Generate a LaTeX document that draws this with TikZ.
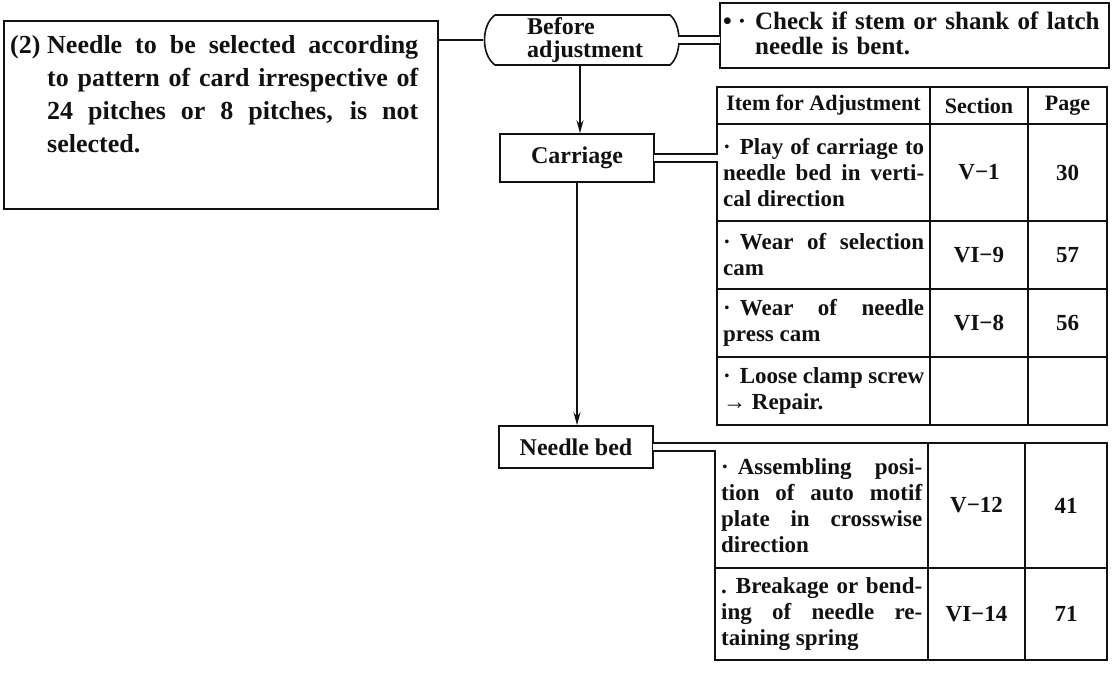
\documentclass[tikz,border=0pt]{standalone}
\usepackage{fontspec}
\setmainfont{Liberation Serif}
\usetikzlibrary{arrows.meta}
\tolerance=10000
\hbadness=10000

\begin{document}
\begin{tikzpicture}[x=1pt, y=-1pt,
    outline/.style={draw=inkColour, line width=1.6pt},
    labelbox/.style={outline, minimum width=154pt, inner sep=0pt, text=inkColour,
        font=\fontsize{24}{26}\selectfont\bfseries},
    headtext/.style={inner sep=0pt, text=inkColour,
        font=\fontsize{22}{25}\selectfont\bfseries},
    celltext/.style={anchor=west, inner sep=0pt, text width=201pt, align=justify,
        text=inkColour, font=\fontsize{23}{26}\selectfont\bfseries},
    numtext/.style={inner sep=0pt, text=inkColour,
        font=\fontsize{23}{26}\selectfont\bfseries},
    flow/.style={outline, -{Stealth[length=13pt, width=7pt]}},
]
    \definecolor{inkColour}{HTML}{111111}

    % Keep the page at the reference size
    \useasboundingbox (0,0) rectangle (1112,675);

    % Draw fault box
    \node[outline, anchor=north west, minimum width=434pt, minimum height=188pt,
        inner sep=0pt] (fault) at (3,20) {};
    \node[anchor=base west, inner sep=0pt, text width=408pt, align=justify,
        text=inkColour, font=\fontsize{26}{33}\selectfont\bfseries] (fault-text) at (10,53)
        {\hangindent=37pt\hangafter=1\makebox[37pt][l]{(2)}Needle to be selected according\linebreak
         to pattern of card irrespective of\linebreak 24 pitches or 8 pitches, is not\linebreak selected.\par};

    % Draw "Before adjustment" box
    \node[anchor=west, inner sep=0pt, align=left, text=inkColour,
        font=\fontsize{24}{23}\selectfont\bfseries] (before) at (527,40) {Before\\adjustment};
    \coordinate (before-w) at (483,40);
    \coordinate (before-e) at (678,40);
    \coordinate (before-s) at (580,65);
    \draw[outline] (495,15) -- (670,15) .. controls (682,25) and (682,55) .. (670,65)
        -- (495,65) .. controls (481,55) and (481,25) .. cycle;

    % Draw check box
    \node[outline, anchor=north west, minimum width=389pt, minimum height=65pt,
        inner sep=0pt] (check) at (719,2) {};
    \node[anchor=base west, inner sep=0pt, text width=380pt, align=left,
        text=inkColour, font=\fontsize{25}{25}\selectfont\bfseries] (check-text) at (723,29)
        {\hangindent=32pt\hangafter=1\makebox[32pt][l]{•\hspace{6pt}·}Check if stem or shank of latch\newline needle is bent.\par};

    % Draw unit boxes
    \node[labelbox, minimum height=48pt] (carriage) at (577,158) {Carriage};
    \node[labelbox, minimum height=42pt] (needlebed) at (576,447) {Needle bed};

    % Draw carriage table
    \coordinate (ta-nw) at (717,87);
    \coordinate (ta-se) at (1107,425);
    \draw[outline] (ta-nw) rectangle (ta-se);
    \foreach \y in {124,221,289,357}
        \draw[outline] (717,\y) -- (1107,\y);
    \foreach \x in {930,1028}
        \draw[outline] (\x,87) -- (\x,425);

    \node[headtext] (ta-item) at (823.5,105.5) {Item for Adjustment};
    \node[headtext] (ta-sect) at (979,105.5) {Section};
    \node[headtext] (ta-page) at (1067.5,105.5) {Page};

    \node[celltext] (ta-r1) at (723,172.5) {·\hspace{9pt}Play of carriage to\linebreak needle bed in verti-\linebreak cal direction};
    \node[celltext] (ta-r2) at (723,255) {·\hspace{9pt}Wear of selection\linebreak cam};
    \node[celltext] (ta-r3) at (723,323) {·\hspace{9pt}Wear of needle\linebreak press cam};
    \node[celltext] (ta-r4) at (723,391) {·\hspace{9pt}Loose clamp screw\linebreak → Repair.};
    \foreach \yc/\sec/\pg [count=\i] in {172.5/V−1/30, 255/VI−9/57, 323/VI−8/56} {
        \node[numtext] (ta-s\i) at (979,\yc) {\sec};
        \node[numtext] (ta-p\i) at (1067.5,\yc) {\pg};
    }

    % Draw needle bed table
    \coordinate (tb-nw) at (715,443);
    \coordinate (tb-se) at (1107,660);
    \draw[outline] (tb-nw) rectangle (tb-se);
    \draw[outline] (715,568) -- (1107,568);
    \foreach \x in {928,1025}
        \draw[outline] (\x,443) -- (\x,660);

    \node[celltext] (tb-r1) at (721,505.5) {·\hspace{9pt}Assembling posi-\linebreak tion of auto motif\linebreak plate in crosswise\linebreak direction};
    \node[celltext] (tb-r2) at (721,614) {.\hspace{9pt}Breakage or bend-\linebreak ing of needle re-\linebreak taining spring};
    \foreach \yc/\sec/\pg [count=\i] in {505.5/V−12/41, 614/VI−14/71} {
        \node[numtext] (tb-s\i) at (976.5,\yc) {\sec};
        \node[numtext] (tb-p\i) at (1066,\yc) {\pg};
    }

    % Draw links
    \draw[outline] (fault.east |- before-w) -- (before-w);
    \coordinate (chk-in) at (check.west |- before-e);
    \coordinate (ta-in) at (ta-nw |- carriage.east);
    \coordinate (tb-in) at (tb-nw |- needlebed.east);
    \foreach \src/\dst in {before-e/chk-in, carriage.east/ta-in, needlebed.east/tb-in} {
        \fill[white] ([xshift=-1pt,yshift=3.2pt]\src) rectangle ([xshift=1pt,yshift=-3.2pt]\dst);
        \draw[outline] ([yshift=4pt]\src) -- ([yshift=4pt]\dst);
        \draw[outline] ([yshift=-4pt]\src) -- ([yshift=-4pt]\dst);
    }

    % Draw flow arrows
    \draw[flow] (before-s) -- (before-s |- carriage.north);
    \draw[flow] (carriage.south) -- (carriage.south |- needlebed.north);

\end{tikzpicture}
\end{document}
